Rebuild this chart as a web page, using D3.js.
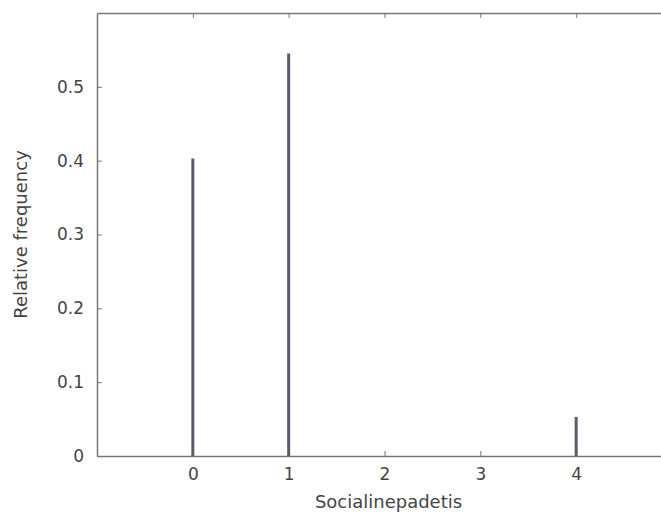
<!DOCTYPE html>
<html lang="en">
<head>
    <meta charset="UTF-8">
    <title>Relative frequency - Socialinepadetis</title>
    <style>
        * { margin: 0; padding: 0; }
        body { background: #fff; }
        svg { display: block; }
        .axis text { font-family: 'DejaVu Sans', Verdana, sans-serif; font-size: 17px; fill: #444; }
        .axis path, .axis line { stroke: #777; }
        .title { font-family: 'DejaVu Sans', Verdana, sans-serif; font-size: 18px; fill: #444; }
    </style>
</head>
<body>
    <div id="chart"></div>

    <script src="https://d3js.org/d3.v7.min.js"></script>
    <script>
        const categories = [0, 1, 4];
        const frequencies = [0.403, 0.545, 0.053];
        const xTicks = [0, 1, 2, 3, 4];
        const yTicks = [0, 0.1, 0.2, 0.3, 0.4, 0.5];

        const W = 661, H = 512;
        const margin = { top: 13, left: 97, bottom: 56 };
        const height = H - margin.top - margin.bottom;

        const svg = d3.select("#chart").append("svg")
            .attr("width", W)
            .attr("height", H);

        // x range runs past the right edge, the plot is cut off there
        const x = d3.scaleLinear().domain([-1, 5]).range([margin.left, margin.left + 575]);
        const y = d3.scaleLinear().domain([0, 0.6]).range([margin.top + height, margin.top]);

        // bottom axis, ticks pointing inward
        svg.append("g")
            .attr("class", "axis")
            .attr("transform", `translate(0,${y(0)})`)
            .call(d3.axisBottom(x).tickValues(xTicks).tickSize(-5).tickSizeOuter(0).tickPadding(12)
                .tickFormat(d3.format("d")))
            .call(g => g.select(".domain").attr("stroke-width", 1.5));

        // top axis, no labels
        svg.append("g")
            .attr("class", "axis")
            .attr("transform", `translate(0,${y(0.6)})`)
            .call(d3.axisTop(x).tickValues(xTicks).tickSize(-5).tickSizeOuter(0).tickFormat(""))
            .call(g => g.select(".domain").attr("stroke-width", 1.5));

        svg.append("g")
            .attr("class", "axis")
            .attr("transform", `translate(${x(-1)},0)`)
            .call(d3.axisLeft(y).tickValues(yTicks).tickSize(-5).tickSizeOuter(0).tickPadding(13)
                .tickFormat(d => d === 0 ? "0" : d3.format(".1f")(d)))
            .call(g => g.select(".domain").attr("stroke-width", 1.5));

        svg.selectAll(".bar")
            .data(categories)
            .enter()
            .append("line")
            .attr("class", "bar")
            .attr("x1", d => x(d))
            .attr("x2", d => x(d))
            .attr("y1", y(0))
            .attr("y2", (d, i) => y(frequencies[i]))
            .attr("stroke", "#5b5b70")
            .attr("stroke-width", 3);

        svg.append("text")
            .attr("class", "title")
            .attr("x", x(2) + 4)
            .attr("y", 508)
            .attr("text-anchor", "middle")
            .text("Socialinepadetis");

        svg.append("text")
            .attr("class", "title")
            .attr("transform", `translate(27,${y(0.3)}) rotate(-90)`)
            .attr("text-anchor", "middle")
            .text("Relative frequency");
    </script>
</body>
</html>
